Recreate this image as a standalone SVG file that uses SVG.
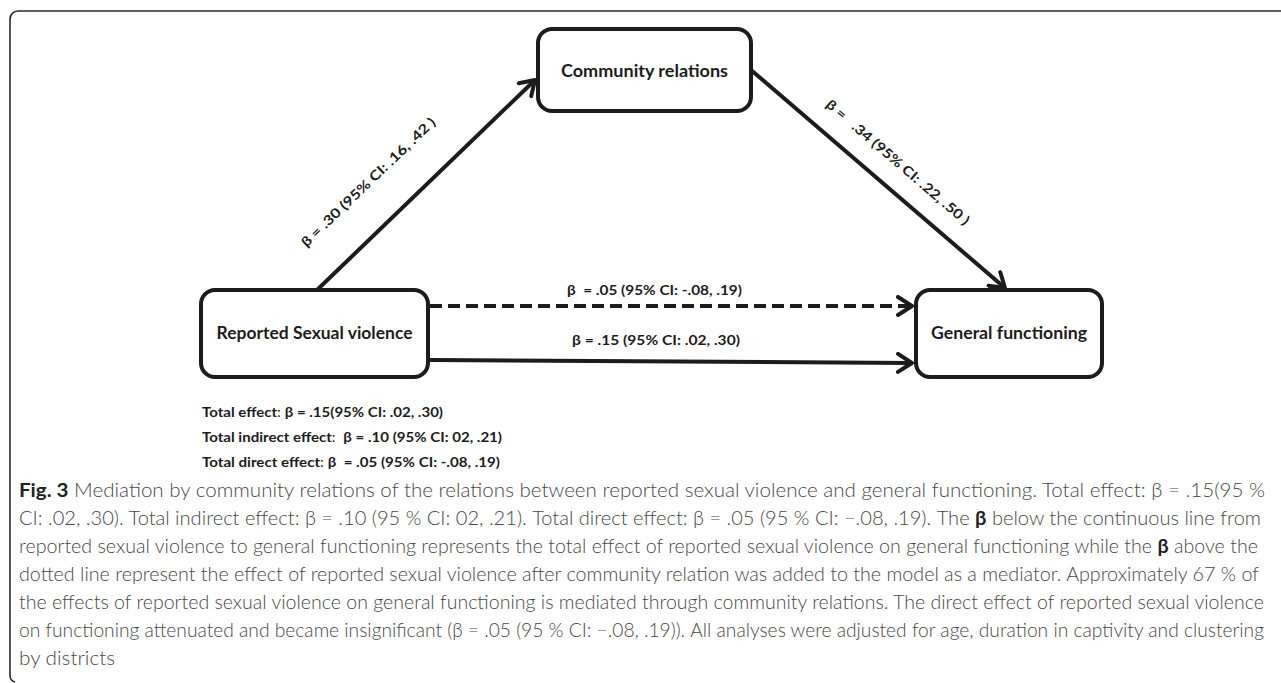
<svg xmlns="http://www.w3.org/2000/svg" width="1281" height="683" viewBox="0 0 1281 683">
<style>
.box{fill:#fff;stroke:#1c1c1c;stroke-width:4}
.node{font-family:Lato,"Liberation Sans",sans-serif;font-weight:700;font-size:16.5px;fill:#1c1c1c}
.lab{font-family:Lato,"Liberation Sans",sans-serif;font-weight:700;font-size:13.5px;fill:#1c1c1c}
.edge{fill:none;stroke:#1c1c1c;stroke-width:4}
.cap{font-family:Lato,"Open Sans",sans-serif;font-weight:300;font-size:19.2px;fill:#484848}
.b{font-weight:700;fill:#222}
.n{font-weight:400}
</style>
<defs>
<marker id="arr" viewBox="0 0 18 22" refX="16" refY="11" markerWidth="18" markerHeight="22" markerUnits="userSpaceOnUse" orient="auto">
<path d="M2,2 L16,11 L2,20" fill="none" stroke="#1c1c1c" stroke-width="4" stroke-linecap="round" stroke-linejoin="round"/>
</marker>
</defs>
<rect width="1281" height="683" fill="#fff"/>
<path d="M1281,11 H18 A8,8 0 0 0 10,19 V675 A7,7 0 0 0 15,682" fill="none" stroke="#2a2a2a" stroke-width="1.6"/>

<g id="connectors">
<line class="edge" x1="317" y1="290" x2="535" y2="80" marker-end="url(#arr)"/>
<line class="edge" x1="751" y1="70" x2="1005" y2="288" marker-end="url(#arr)"/>
<line class="edge" x1="430" y1="306" x2="912" y2="306" stroke-dasharray="12 6" marker-end="url(#arr)"/>
<line class="edge" x1="430" y1="360" x2="912" y2="363" marker-end="url(#arr)"/>
<text class="lab" transform="translate(368,182) rotate(-43.7)" text-anchor="middle" y="5" textLength="180" lengthAdjust="spacingAndGlyphs">β = .30 (95% CI: .16, .42 )</text>
<text class="lab" transform="translate(898,162) rotate(40.7)" text-anchor="middle" y="5" textLength="184" lengthAdjust="spacingAndGlyphs" xml:space="preserve">β =   .34 (95% CI: .22, .50 )</text>
<text class="lab" x="567" y="295" textLength="175" lengthAdjust="spacingAndGlyphs" xml:space="preserve">β  = .05 (95% CI: -.08, .19)</text>
<text class="lab" x="572" y="345" textLength="168" lengthAdjust="spacingAndGlyphs">β = .15 (95% CI: .02, .30)</text>
</g>

<g id="node-community">
<rect class="box" x="538" y="29" width="213" height="82" rx="14"/>
<text class="node" x="644.5" y="77" text-anchor="middle" textLength="167" lengthAdjust="spacingAndGlyphs">Community relations</text>
</g>
<g id="node-reported">
<rect class="box" x="201" y="290" width="227" height="87" rx="14"/>
<text class="node" x="314.5" y="339" text-anchor="middle" textLength="196" lengthAdjust="spacingAndGlyphs">Reported Sexual violence</text>
</g>
<g id="node-general">
<rect class="box" x="916" y="290" width="186" height="87" rx="14"/>
<text class="node" x="1009" y="339" text-anchor="middle" textLength="156" lengthAdjust="spacingAndGlyphs">General functioning</text>
</g>

<g id="effects">
<text class="lab" x="202" y="417" textLength="241" lengthAdjust="spacingAndGlyphs">Total effect<tspan class="n">: </tspan>β = .15(95% CI: .02, .30)</text>
<text class="lab" x="202" y="442" textLength="300" lengthAdjust="spacingAndGlyphs" xml:space="preserve">Total indirect effect<tspan class="n">:  </tspan>β = .10 (95% CI: 02, .21)</text>
<text class="lab" x="202" y="467" textLength="298" lengthAdjust="spacingAndGlyphs" xml:space="preserve">Total direct effect<tspan class="n">: </tspan>β  = .05 (95% CI: -.08, .19)</text>
</g>

<g id="caption">
<text class="cap" x="19" y="497" textLength="1246" lengthAdjust="spacingAndGlyphs"><tspan class="b">Fig. 3</tspan> Mediation by community relations of the relations between reported sexual violence and general functioning. Total effect: β = .15(95 %</text>
<text class="cap" x="19" y="525" textLength="1242" lengthAdjust="spacingAndGlyphs">CI: .02, .30). Total indirect effect: β = .10 (95 % CI: 02, .21). Total direct effect: β = .05 (95 % CI: −.08, .19). The <tspan class="b">β</tspan> below the continuous line from</text>
<text class="cap" x="19" y="553" textLength="1239" lengthAdjust="spacingAndGlyphs">reported sexual violence to general functioning represents the total effect of reported sexual violence on general functioning while the <tspan class="b">β</tspan> above the</text>
<text class="cap" x="19" y="581" textLength="1240" lengthAdjust="spacingAndGlyphs">dotted line represent the effect of reported sexual violence after community relation was added to the model as a mediator. Approximately 67 % of</text>
<text class="cap" x="19" y="609" textLength="1245" lengthAdjust="spacingAndGlyphs">the effects of reported sexual violence on general functioning is mediated through community relations. The direct effect of reported sexual violence</text>
<text class="cap" x="19" y="637" textLength="1245" lengthAdjust="spacingAndGlyphs">on functioning attenuated and became insignificant (β = .05 (95 % CI: −.08, .19)). All analyses were adjusted for age, duration in captivity and clustering</text>
<text class="cap" x="19" y="665" textLength="96" lengthAdjust="spacingAndGlyphs">by districts</text>
</g>
</svg>
